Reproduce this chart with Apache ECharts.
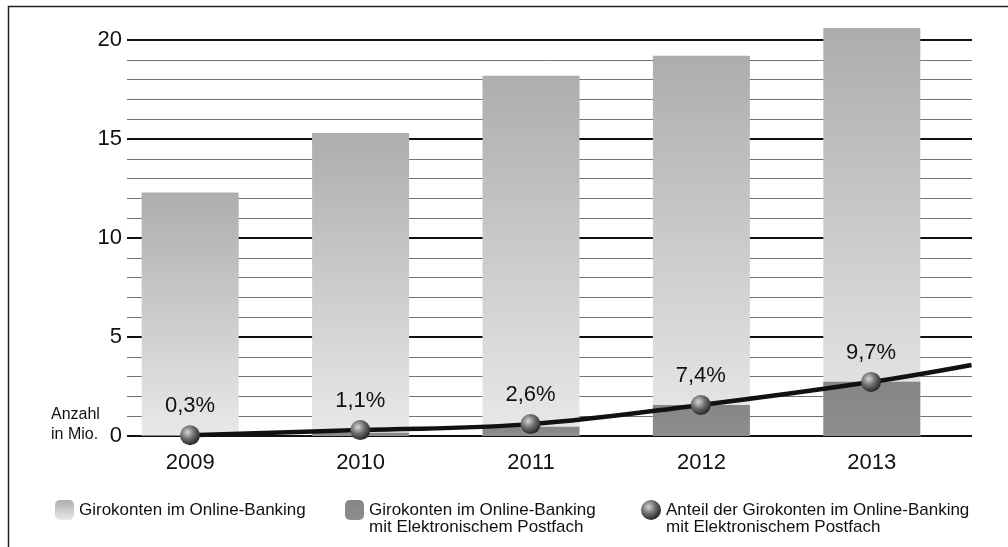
<!DOCTYPE html>
<html>
<head>
<meta charset="utf-8">
<script src="https://cdn.jsdelivr.net/npm/echarts@6/dist/echarts.min.js"></script>
<style>
  html, body { margin: 0; padding: 0; background: #fff; }
  #chart { width: 1008px; height: 547px; }
</style>
</head>
<body>
<div id="chart"></div>
<script>
// ---- data ----
const YEARS = ['2009', '2010', '2011', '2012', '2013'];
const ONLINE_BANKING = [12.3, 15.3, 18.2, 19.2, 20.6];          // Mio. Girokonten im Online-Banking
const WITH_POSTFACH = [0.05, 0.17, 0.47, 1.57, 2.74];           // Mio. mit Elektronischem Postfach
const SHARE_CURVE = [0.04, 0.3, 0.6, 1.57, 2.73];               // curve height at each year (axis units)
const SHARE_LABELS = ['0,3%', '1,1%', '2,6%', '7,4%', '9,7%'];  // Anteil labels
const CURVE_TAIL = [4.59, 3.59];                                 // curve continues past 2013
const Y_MIN = 0, Y_MAX = 20, Y_STEP = 5;
const LEGEND_NAMES = [
  'Girokonten im Online-Banking',
  'Girokonten im Online-Banking\nmit Elektronischem Postfach',
  'Anteil der Girokonten im Online-Banking\nmit Elektronischem Postfach'
];

const FONT = 'Liberation Sans, Arial, sans-serif';
const chart = echarts.init(document.getElementById('chart'), null, { renderer: 'canvas' });

const lightBar = {
  type: 'linear', x: 0, y: 0, x2: 0, y2: 1,
  colorStops: [{ offset: 0, color: '#adadad' }, { offset: 1, color: '#e9e9e9' }]
};
const darkBar = {
  type: 'linear', x: 0, y: 0, x2: 0, y2: 1,
  colorStops: [{ offset: 0, color: '#868686' }, { offset: 1, color: '#8e8e8e' }]
};
const sphere = {
  type: 'radial', x: 0.38, y: 0.35, r: 0.75,
  colorStops: [
    { offset: 0, color: '#d6d6d6' },
    { offset: 0.45, color: '#6e6e6e' },
    { offset: 1, color: '#151515' }
  ]
};

const curveData = SHARE_CURVE.map((v, i) => [i, v]);
curveData.push({ value: CURVE_TAIL, symbol: 'none', label: { show: false } });

const legendText = { fontFamily: FONT, fontSize: 17, color: '#111', lineHeight: 17 };
// two-line legend entries: a leading empty line keeps the icon level with the first line
const legendFmt = name => (name.indexOf('\n') >= 0 ? '\n' + name : name);

const option = {
  animation: false,
  backgroundColor: '#fff',
  textStyle: { fontFamily: FONT },
  grid: [
    { left: 127, right: 36, top: 40, bottom: 111 },   // gridlines, value labels, curve
    { left: 105, width: 852, top: 40, bottom: 111 }   // bars
  ],
  xAxis: [
    { gridIndex: 0, type: 'value', min: -0.37, max: 4.593, show: false },
    {
      gridIndex: 1, type: 'category', data: YEARS,
      axisLine: { show: false }, axisTick: { show: false },
      axisLabel: { fontFamily: FONT, fontSize: 22, color: '#111', margin: 16 }
    }
  ],
  yAxis: [
    {
      gridIndex: 0, type: 'value', min: Y_MIN, max: Y_MAX, interval: Y_STEP,
      axisLine: { show: false }, axisTick: { show: false },
      axisLabel: { fontFamily: FONT, fontSize: 22, color: '#111', margin: 5 },
      splitLine: { show: true, lineStyle: { color: '#111', width: 2 } },
      minorTick: { show: false, splitNumber: 5 },
      minorSplitLine: { show: true, lineStyle: { color: '#727272', width: 1 } }
    },
    { gridIndex: 1, type: 'value', min: Y_MIN, max: Y_MAX, show: false }
  ],
  legend: [
    {
      data: [{ name: LEGEND_NAMES[0] }], left: 55, top: 500, padding: 0,
      itemWidth: 19, itemHeight: 20, selectedMode: false,
      textStyle: legendText, formatter: legendFmt
    },
    {
      data: [{ name: LEGEND_NAMES[1] }], left: 345, top: 484.5, padding: 0,
      itemWidth: 19, itemHeight: 20, selectedMode: false,
      textStyle: legendText, formatter: legendFmt
    },
    {
      data: [{ name: LEGEND_NAMES[2], icon: 'circle' }], left: 641, top: 484.5, padding: 0,
      itemWidth: 20, itemHeight: 20, selectedMode: false,
      textStyle: legendText, formatter: legendFmt
    }
  ],
  graphic: [
    {
      type: 'polyline', silent: true,
      shape: { points: [[8.5, 547], [8.5, 6.5], [1008, 6.5]] },
      style: { stroke: '#222', lineWidth: 1.5, fill: null }
    },
    {
      type: 'text', left: 51, top: 405, silent: true,
      style: { text: 'Anzahl\nin Mio.', font: '16px ' + FONT, fill: '#111', lineHeight: 20 }
    }
  ],
  series: [
    {
      name: LEGEND_NAMES[0], type: 'bar', xAxisIndex: 1, yAxisIndex: 1,
      data: ONLINE_BANKING, barWidth: 97, barGap: '-100%', clip: false,
      itemStyle: { color: lightBar }, z: 2
    },
    {
      name: LEGEND_NAMES[1], type: 'bar', xAxisIndex: 1, yAxisIndex: 1,
      data: WITH_POSTFACH, barWidth: 97, barGap: '-100%', clip: false,
      itemStyle: { color: darkBar }, z: 3
    },
    {
      name: LEGEND_NAMES[2], type: 'line', xAxisIndex: 0, yAxisIndex: 0,
      data: curveData, smooth: 0.4, clip: false,
      symbol: 'circle', symbolSize: 20,
      lineStyle: { color: '#111', width: 4.5 },
      itemStyle: { color: sphere, borderWidth: 0 },
      label: {
        show: true, position: 'top', distance: 8,
        fontFamily: FONT, fontSize: 22, color: '#111',
        formatter: p => SHARE_LABELS[p.dataIndex] || ''
      },
      z: 5
    }
  ]
};
chart.setOption(option);
</script>
</body>
</html>
